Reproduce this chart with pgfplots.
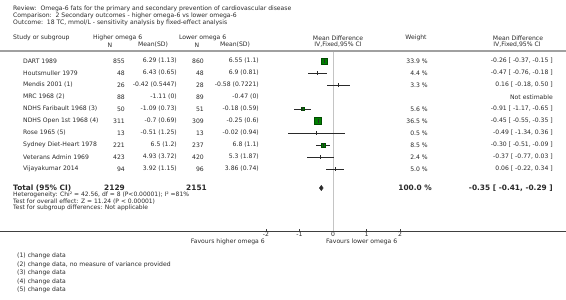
\documentclass[border=0pt]{standalone}
\usepackage{pgfplots}
\pgfplotsset{compat=1.18}
\usepackage{pgfplotstable}
\usepackage{fontspec}
\setmainfont{DejaVu Sans}
\definecolor{txt}{HTML}{2A2A2A}
\definecolor{sqfill}{HTML}{008000}
\definecolor{sqdraw}{HTML}{004C00}
\definecolor{hdrline}{HTML}{A0A0A0}
\definecolor{zeroline}{HTML}{C4C4C4}
\definecolor{axisgray}{HTML}{404040}
\newcommand{\fs}{\fontsize{6.1}{7}\selectfont}
\newcommand{\fss}{\fontsize{6.0}{6.3}\selectfont}
\newcommand{\fb}{\fontsize{7.4}{8}\selectfont\bfseries}

% y = -(pixel row), md = mean difference, e = half width of 95% CI
\pgfplotstableread{
y    md     e
-61  -0.26  0.11
-73  -0.47  0.29
-85   0.16  0.34
-109 -0.91  0.26
-121 -0.45  0.10
-133 -0.49  0.85
-145 -0.30  0.21
-157 -0.37  0.40
-169  0.06  0.28
}\studies

\begin{document}
\begin{tikzpicture}[x=1pt,y=1pt,
  t/.style={font=\fs, text=txt, inner sep=0pt},
  ts/.style={font=\fss, text=txt, inner sep=0pt, anchor=west},
  tb/.style={font=\fb, text=txt, inner sep=0pt}]
\begin{axis}[
  at={(0pt,-231pt)}, anchor=south west,
  scale only axis, width=566pt, height=180pt,
  xmin=-9.9403, xmax=6.9552, ymin=-231, ymax=-51,
  axis x line=bottom, axis y line=none,
  x axis line style={draw=axisgray, line width=0.6pt, -},
  xtick={-2,-1,0,1,2}, xticklabels={-2,-1,0,1,2},
  tick align=inside, major tick length=2pt,
  tick style={draw=axisgray, line width=0.4pt},
  xticklabel style={font=\fs, text=txt, inner sep=0.6pt},
  clip=false,
]
\addplot[zeroline, line width=0.6pt] coordinates {(0,-231) (0,-51)};
% squares (size by weight)
\addplot[only marks, mark=square*, mark size=3.3pt, mark options={fill=sqfill, draw=sqdraw, line width=0.3pt}] coordinates {(-0.26,-61)};
\addplot[only marks, mark=square*, mark size=3.5pt, mark options={fill=sqfill, draw=sqdraw, line width=0.3pt}] coordinates {(-0.45,-121)};
\addplot[only marks, mark=square*, mark size=1.6pt, mark options={fill=sqfill, draw=sqdraw, line width=0.3pt}] coordinates {(-0.91,-109)};
\addplot[only marks, mark=square*, mark size=1.8pt, mark options={fill=sqfill, draw=sqdraw, line width=0.3pt}] coordinates {(-0.30,-145)};
% confidence intervals and point estimates
\addplot[only marks, mark=|, mark size=1.6pt, mark options={draw=txt, line width=0.5pt},
  error bars/.cd, x dir=both, x explicit, error mark=none,
  error bar style={draw=txt, line width=0.5pt}]
  table[x=md, y=y, x error=e] {\studies};
% total diamond
\addplot[fill=txt, draw=txt, line width=0.3pt] coordinates {(-0.41,-188) (-0.35,-185.3) (-0.29,-188) (-0.35,-190.7)} -- cycle;
\end{axis}

% header block
\node[t, anchor=west] at (13,-9) {Review:\ \ Omega-6 fats for the primary and secondary prevention of cardiovascular disease};
\node[t, anchor=west] at (13,-16) {Comparison:\ \ 2 Secondary outcomes - higher omega-6 vs lower omega-6};
\node[t, anchor=west] at (13,-23) {Outcome:\ \ 18 TC, mmol/L - sensitivity analysis by fixed-effect analysis};

% column headers
\node[t, anchor=west] at (13,-38) {Study or subgroup};
\node[t, anchor=west] at (93,-38) {Higher omega 6};
\node[t] at (110,-45) {N};
\node[t] at (153,-45) {Mean(SD)};
\node[t, anchor=west] at (179,-38) {Lower omega 6};
\node[t] at (197,-45) {N};
\node[t] at (235,-45) {Mean(SD)};
\node[t] at (338,-38) {Mean Difference};
\node[t] at (338,-45) {IV,Fixed,95\% CI};
\node[t] at (416,-38) {Weight};
\node[t] at (518,-38) {Mean Difference};
\node[t] at (517,-45) {IV,Fixed,95\% CI};
\draw[hdrline, line width=1.6pt] (0,-51) -- (566,-51);

% study rows
\foreach \yy/\name/\na/\ma/\nb/\mb/\wt/\ci in {
 -61/DART 1989/855/6.29 (1.13)/860/6.55 (1.1)/33.9 \%/{-0.26 [ -0.37, -0.15 ]},
 -73/Houtsmuller 1979/48/6.43 (0.65)/48/6.9 (0.81)/4.4 \%/{-0.47 [ -0.76, -0.18 ]},
 -85/Mendis 2001 (1)/26/-0.42 (0.5447)/28/-0.58 (0.7221)/3.3 \%/{0.16 [ -0.18, 0.50 ]},
 -97/MRC 1968 (2)/88/-1.11 (0)/89/-0.47 (0)/{}/Not estimable,
 -109/NDHS Faribault 1968 (3)/50/-1.09 (0.73)/51/-0.18 (0.59)/5.6 \%/{-0.91 [ -1.17, -0.65 ]},
 -121/NDHS Open 1st 1968 (4)/311/-0.7 (0.69)/309/-0.25 (0.6)/36.5 \%/{-0.45 [ -0.55, -0.35 ]},
 -133/Rose 1965 (5)/13/-0.51 (1.25)/13/-0.02 (0.94)/0.5 \%/{-0.49 [ -1.34, 0.36 ]},
 -145/Sydney Diet-Heart 1978/221/6.5 (1.2)/237/6.8 (1.1)/8.5 \%/{-0.30 [ -0.51, -0.09 ]},
 -157/Veterans Admin 1969/423/4.93 (3.72)/420/5.3 (1.87)/2.4 \%/{-0.37 [ -0.77, 0.03 ]},
 -169/Vijayakumar 2014/94/3.92 (1.15)/96/3.86 (0.74)/5.0 \%/{0.06 [ -0.22, 0.34 ]}}{
  \node[t, anchor=west] at (23,\yy) {\name};
  \node[t, anchor=east] at (125,\yy) {\na};
  \node[t, anchor=east] at (177,\yy) {\ma};
  \node[t, anchor=east] at (204,\yy) {\nb};
  \node[t, anchor=east] at (259,\yy) {\mb};
  \node[t, anchor=east] at (428,\yy) {\wt};
  \node[t, anchor=east] at (553,\yy) {\ci};
}

% total
\node[tb, anchor=west] at (13,-188) {Total (95\% CI)};
\node[tb, anchor=east] at (125,-188) {2129};
\node[tb, anchor=east] at (207,-188) {2151};
\node[tb, anchor=east] at (432,-188) {100.0 \%};
\node[tb, anchor=east] at (553,-188) {-0.35 [ -0.41, -0.29 ]};
\node[ts] at (13,-195) {Heterogeneity: Chi² = 42.56, df = 8 (P<0.00001); I² =81\%};
\node[ts] at (13,-201.3) {Test for overall effect: Z = 11.24 (P < 0.00001)};
\node[ts] at (13,-207.6) {Test for subgroup differences: Not applicable};

% favours labels
\node[t, anchor=east] at (265,-242) {Favours higher omega 6};
\node[t, anchor=west] at (326,-242) {Favours lower omega 6};

% footnotes
\node[t, anchor=west] at (17,-256) {(1) change data};
\node[t, anchor=west] at (17,-264.5) {(2) change data, no measure of variance provided};
\node[t, anchor=west] at (17,-273) {(3) change data};
\node[t, anchor=west] at (17,-281.5) {(4) change data};
\node[t, anchor=west] at (17,-290) {(5) change data};

\pgfresetboundingbox
\path (0,0) rectangle (566,-300);
\end{tikzpicture}
\end{document}
